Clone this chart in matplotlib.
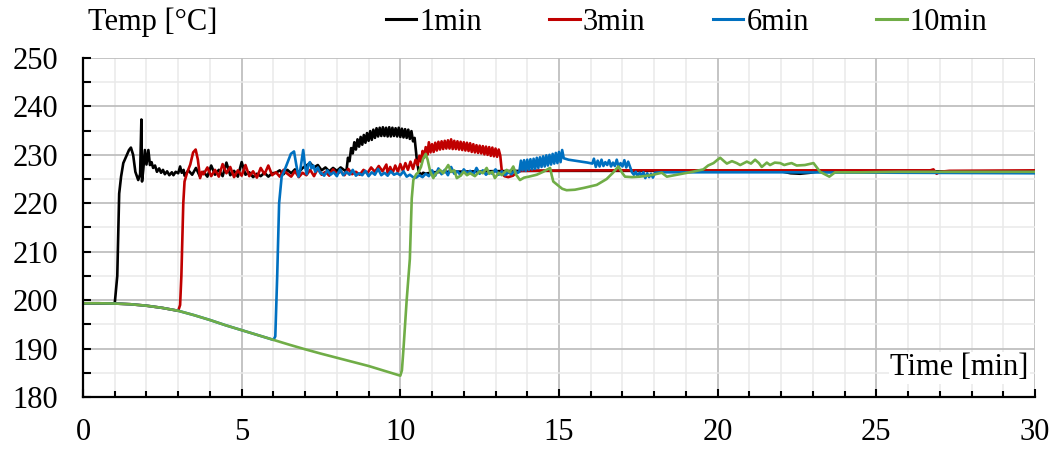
# Temperature vs time for four holding times
import matplotlib.pyplot as plt
from matplotlib.ticker import MultipleLocator

plt.rcParams['font.family'] = ['Liberation Serif', 'DejaVu Serif']

# shared cooling curve before the reheat starts (time, temp)
descent = [(0.0, 199.35), (0.5, 199.35), (1.0, 199.3), (1.5, 199.15), (2.0, 198.85),
           (2.5, 198.4), (3.0, 197.8), (3.5, 196.9), (4.0, 195.9), (4.5, 194.8),
           (5.0, 193.8), (5.5, 192.8), (6.0, 191.8), (6.5, 190.8), (7.0, 189.85),
           (7.5, 188.95), (8.0, 188.1), (8.5, 187.25), (9.0, 186.4), (9.5, 185.4),
           (10.0, 184.4)]

black_pts = descent[:3] + [
    (1.08, 205.0), (1.14, 222.0), (1.2, 225.5), (1.27, 228.3), (1.35, 229.5), (1.45, 231.0),
    (1.51, 231.5), (1.58, 230.0), (1.65, 226.5), (1.74, 224.8), (1.8, 226.0), (1.84, 237.3),
    (1.86, 224.5), (1.9, 227.0), (1.95, 231.0), (2.0, 228.0), (2.06, 231.0), (2.11, 227.9),
    (2.16, 228.5), (2.21, 227.3), (2.27, 227.8), (2.33, 226.5), (2.4, 227.2), (2.46, 226.3),
    (2.52, 226.9), (2.58, 226.0), (2.65, 226.6), (2.72, 225.8), (2.8, 226.4), (2.85, 225.8),
    (2.92, 226.5), (3.0, 226.2), (3.06, 227.6), (3.11, 226.3), (3.17, 226.9),
    (3.2, 225.7), (3.32, 226.8), (3.44, 225.9), (3.56, 227.3), (3.68, 225.6), (3.8, 226.5),
    (3.92, 225.5), (4.04, 227.8), (4.16, 225.9), (4.28, 226.9), (4.4, 225.6), (4.52, 228.4),
    (4.64, 225.8), (4.76, 226.7), (4.88, 225.5), (5.0, 228.5), (5.12, 225.9), (5.24, 226.4),
    (5.36, 225.4), (5.48, 226.1), (5.6, 225.6), (5.72, 226.3), (5.84, 225.5), (5.96, 226.2),
    (6.08, 226.3), (6.2, 226.8), (6.32, 226.0), (6.44, 226.9), (6.56, 226.2), (6.68, 227.0),
    (6.8, 226.4), (6.92, 227.3), (7.04, 227.8), (7.16, 228.3), (7.28, 227.4), (7.4, 227.9),
    (7.52, 226.8), (7.64, 227.4), (7.76, 226.6), (7.88, 227.3), (8.0, 226.7), (8.12, 227.4),
    (8.24, 226.8),
    (8.30, 226.6), (8.35, 229.4), (8.40, 228.7), (8.45, 231.4), (8.50, 230.3), (8.55, 232.6),
    (8.60, 231.1), (8.65, 233.2), (8.70, 231.7), (8.75, 233.7), (8.80, 232.1), (8.85, 234.1),
    (8.90, 232.5), (8.95, 234.5), (9.00, 232.9), (9.05, 234.9), (9.10, 233.1), (9.15, 235.2),
    (9.20, 233.5), (9.25, 235.5), (9.30, 233.8), (9.35, 235.6), (9.40, 233.9), (9.45, 235.7),
    (9.50, 233.9), (9.55, 235.6), (9.60, 233.8), (9.65, 235.7), (9.70, 233.8), (9.75, 235.6),
    (9.80, 233.9), (9.85, 235.5), (9.90, 233.8), (9.95, 235.6), (10.00, 233.7), (10.05, 235.4),
    (10.10, 233.6), (10.15, 235.3), (10.20, 233.5), (10.25, 235.2), (10.30, 233.3), (10.35, 234.9),
    (10.40, 232.8), (10.45, 233.5), (10.52, 229.0), (10.58, 226.5), (10.65, 225.9), (10.72, 226.3),
    (10.8, 226.1), (11.0, 226.4), (11.5, 226.5), (12.5, 226.6), (14.0, 226.7), (18.0, 226.7),
    (22.0, 226.6), (22.3, 226.2), (22.6, 226.1), (22.9, 226.3), (23.2, 226.6), (26.0, 226.6),
    (30.0, 226.6)]

red_pts = descent[:7] + [
    (3.06, 199.0), (3.1, 205.0), (3.16, 220.0), (3.2, 224.5), (3.28, 226.3), (3.38, 228.0),
    (3.47, 230.5), (3.55, 231.1), (3.62, 229.0), (3.69, 225.2), (3.75, 226.5),
    (3.80, 226.0), (3.92, 227.4), (4.04, 225.6), (4.16, 226.9), (4.28, 225.5), (4.40, 228.1),
    (4.52, 226.2), (4.64, 227.5), (4.76, 225.4), (4.88, 226.8), (5.00, 225.7), (5.12, 227.9),
    (5.24, 225.6), (5.36, 226.6), (5.48, 225.3), (5.60, 227.3), (5.72, 226.0), (5.84, 227.8),
    (5.96, 225.8), (6.08, 226.4), (6.20, 225.5), (6.32, 226.9), (6.44, 226.1), (6.56, 225.5),
    (6.68, 226.6), (6.80, 225.4), (6.92, 226.3), (7.04, 225.8), (7.16, 226.9), (7.28, 225.6),
    (7.40, 227.2), (7.52, 225.9), (7.64, 226.5), (7.76, 225.7), (7.88, 227.0), (8.00, 226.0),
    (8.12, 226.6), (8.24, 225.8), (8.36, 227.1), (8.48, 226.0), (8.60, 226.5), (8.72, 225.9),
    (8.84, 226.9), (8.96, 226.2), (9.08, 227.4), (9.20, 226.5), (9.32, 227.7), (9.44, 226.6),
    (9.56, 228.0),
    (9.60, 226.2), (9.68, 227.5), (9.76, 226.3), (9.84, 227.8), (9.92, 226.5), (10.00, 228.1),
    (10.08, 226.7), (10.16, 228.3), (10.24, 226.9), (10.32, 228.6), (10.40, 227.1), (10.48, 229.0),
    (10.55, 227.9), (10.60, 229.8), (10.65, 228.6), (10.70, 230.8), (10.75, 229.4), (10.80, 231.6),
    (10.85, 230.0), (10.90, 232.6), (10.95, 230.5), (11.00, 232.2), (11.05, 230.6), (11.10, 232.5),
    (11.15, 230.9), (11.20, 232.7), (11.25, 231.1), (11.30, 232.8), (11.35, 231.2), (11.40, 232.9),
    (11.45, 231.3), (11.50, 233.0), (11.55, 231.3), (11.60, 233.2), (11.65, 231.2), (11.70, 232.9),
    (11.75, 231.2), (11.80, 232.8), (11.85, 231.1), (11.90, 232.7), (11.95, 231.0), (12.00, 232.6),
    (12.05, 230.9), (12.10, 232.5), (12.15, 230.8), (12.20, 232.4), (12.25, 230.6), (12.30, 232.2),
    (12.35, 230.5), (12.40, 232.0), (12.45, 230.4), (12.50, 231.9), (12.55, 230.3), (12.60, 231.8),
    (12.65, 230.1), (12.70, 231.7), (12.75, 230.0), (12.80, 231.6), (12.85, 229.8), (12.90, 231.5),
    (12.95, 229.7), (13.00, 231.3), (13.05, 229.6), (13.10, 231.1), (13.15, 229.8), (13.20, 226.5),
    (13.28, 225.6), (13.40, 225.4), (13.55, 225.7), (13.65, 226.3), (13.8, 226.7),
    (16.0, 226.8), (20.0, 226.8), (26.7, 226.8), (26.8, 227.0), (26.9, 226.1), (27.0, 226.5),
    (27.3, 226.7), (30.0, 226.8)]

blue_pts = descent[:13] + [
    (6.06, 192.5), (6.12, 205.0), (6.18, 220.0), (6.26, 225.5), (6.35, 226.8), (6.45, 228.5),
    (6.55, 230.2), (6.65, 230.7), (6.72, 228.0), (6.79, 225.5), (6.85, 227.0), (6.94, 231.0),
    (7.0, 227.5), (7.05, 226.0), (7.1, 228.0), (7.15, 228.5), (7.2, 227.2), (7.26, 227.8),
    (7.32, 226.5), (7.4, 227.4), (7.48, 226.2),
    (7.5, 226.3), (7.6, 225.7), (7.7, 226.8), (7.8, 225.9), (7.9, 226.4), (8.0, 225.6),
    (8.1, 227.0), (8.2, 225.8), (8.3, 226.5), (8.4, 225.9), (8.5, 226.9), (8.6, 225.7),
    (8.7, 226.2), (8.8, 225.8), (8.9, 226.7), (9.0, 225.6), (9.1, 226.4), (9.2, 225.9),
    (9.3, 227.1), (9.4, 225.8), (9.5, 226.3), (9.6, 225.7), (9.7, 226.6), (9.8, 225.9),
    (9.9, 226.2), (10.0, 225.8), (10.1, 226.6), (10.2, 225.5), (10.3, 225.9), (10.4, 225.4),
    (10.5, 225.3), (10.6, 225.8), (10.7, 225.4), (10.8, 226.1), (10.9, 225.6),
    (11.0, 226.8), (11.1, 225.7), (11.2, 227.2), (11.3, 226.0), (11.4, 226.9), (11.5, 225.8),
    (11.6, 227.5), (11.7, 226.1), (11.8, 226.6), (11.9, 225.8), (12.0, 227.0), (12.1, 226.2),
    (12.2, 226.7), (12.3, 225.9), (12.4, 227.3), (12.5, 226.1), (12.6, 226.8), (12.7, 225.9),
    (12.8, 226.5), (12.9, 226.1), (13.0, 227.0), (13.1, 225.9), (13.2, 226.6), (13.3, 225.8),
    (13.4, 226.4), (13.5, 226.0), (13.6, 226.8), (13.7, 226.3),
    (13.75, 226.5), (13.80, 228.8), (13.85, 226.8), (13.90, 228.9), (13.95, 226.7), (14.00, 229.0),
    (14.05, 226.9), (14.10, 229.1), (14.15, 227.0), (14.20, 229.2), (14.25, 227.1), (14.30, 229.4),
    (14.35, 227.3), (14.40, 229.5), (14.45, 227.5), (14.50, 229.7), (14.55, 227.6), (14.60, 229.9),
    (14.65, 227.8), (14.70, 230.0), (14.75, 228.0), (14.80, 230.2), (14.85, 228.2), (14.90, 230.4),
    (14.95, 228.3), (15.00, 230.6), (15.05, 228.5), (15.10, 231.0), (15.15, 229.3), (15.3, 229.0),
    (15.6, 228.7), (15.9, 228.4), (16.05, 228.2),
    (16.10, 229.2), (16.16, 227.5), (16.22, 228.8), (16.28, 227.6), (16.34, 229.0), (16.40, 227.7),
    (16.46, 228.5), (16.52, 227.9), (16.58, 228.9), (16.64, 227.6), (16.70, 228.4), (16.76, 227.7),
    (16.82, 229.0), (16.88, 227.5), (16.94, 228.3), (17.00, 227.6), (17.06, 228.9), (17.12, 227.4),
    (17.18, 228.6), (17.24, 227.5), (17.30, 226.4), (17.36, 225.9), (17.42, 226.5), (17.48, 225.6),
    (17.54, 226.3), (17.60, 225.8), (17.66, 226.4), (17.72, 225.2), (17.78, 226.2), (17.84, 225.4),
    (17.90, 226.1), (17.96, 225.3), (18.02, 226.3), (18.2, 226.4), (22.0, 226.4), (26.0, 226.3),
    (30.0, 226.2)]

green_pts = descent + [
    (10.05, 185.5), (10.1, 190.0), (10.2, 200.0), (10.3, 208.5), (10.36, 221.0), (10.41, 224.8),
    (10.5, 226.0), (10.57, 226.4), (10.65, 227.5), (10.72, 229.2), (10.8, 230.2), (10.86, 229.0),
    (10.94, 226.6), (11.04, 225.2), (11.1, 226.0), (11.25, 226.9), (11.35, 226.2), (11.51, 227.9),
    (11.6, 226.5), (11.7, 226.8), (11.78, 225.2), (11.9, 225.7), (12.0, 226.5), (12.1, 225.8),
    (12.2, 226.2), (12.35, 225.6), (12.5, 226.6), (12.6, 226.2), (12.72, 227.3), (12.8, 226.1),
    (12.9, 226.5), (12.98, 225.2), (13.1, 226.3), (13.2, 225.8), (13.35, 226.9), (13.45, 226.4),
    (13.56, 227.6), (13.65, 225.9), (13.77, 224.8), (13.9, 225.3), (14.05, 225.5), (14.3, 225.9),
    (14.5, 226.5), (14.72, 227.3), (14.77, 225.8), (14.82, 224.5), (14.95, 223.8), (15.1, 223.0),
    (15.24, 222.7), (15.5, 222.8), (15.8, 223.2), (16.19, 223.8), (16.5, 225.0), (16.7, 226.3),
    (16.87, 227.6), (17.0, 226.2), (17.08, 225.5), (17.3, 225.4), (17.55, 225.5), (17.9, 225.8),
    (18.24, 226.3), (18.4, 225.5), (18.8, 226.0), (19.2, 226.5), (19.55, 227.0), (19.7, 227.8),
    (19.87, 228.3), (20.0, 229.0), (20.08, 229.4), (20.2, 228.7), (20.29, 228.2), (20.45, 228.7),
    (20.6, 228.3), (20.71, 227.9), (20.92, 228.6), (21.05, 228.2), (21.18, 229.0), (21.3, 228.3),
    (21.39, 227.5), (21.55, 228.4), (21.65, 227.9), (21.8, 228.4), (21.97, 228.3), (22.1, 227.9),
    (22.2, 228.1), (22.33, 228.3), (22.49, 227.8), (22.75, 227.9), (23.02, 228.3), (23.23, 226.5),
    (23.52, 225.5), (23.7, 226.4), (24.5, 226.4), (25.7, 226.5), (27.0, 226.5), (30.0, 226.5)]

labels = ['1min', '3min', '6min', '10min']
colors = ['#000000', '#c00000', '#0070c0', '#70ad47']

fig = plt.figure(figsize=(10.6, 4.5), dpi=100)
ax = fig.add_axes([0.0783, 0.1178, 0.8981, 0.7533])

for pts, lab, col in zip([black_pts, red_pts, blue_pts, green_pts], labels, colors):
    t = [p[0] for p in pts]
    v = [p[1] for p in pts]
    ax.plot(t, v, color=col, lw=1.9, label=lab, zorder=3)

ax.set_xlim(0, 30)
ax.set_ylim(180, 250)
ax.xaxis.set_major_locator(MultipleLocator(5))
ax.xaxis.set_minor_locator(MultipleLocator(1))
ax.yaxis.set_major_locator(MultipleLocator(10))
ax.yaxis.set_minor_locator(MultipleLocator(5))

ax.grid(which='major', color='#bfbfbf', lw=1.3, zorder=0)
ax.grid(which='minor', color='#e9e9e9', lw=1.1, zorder=0)
ax.set_axisbelow(True)

for s in ['top', 'right']:
    ax.spines[s].set_visible(False)
for s in ['left', 'bottom']:
    ax.spines[s].set_linewidth(1.6)
    ax.spines[s].set_zorder(4)

ax.tick_params(axis='both', which='both', direction='in', width=1.5, labelsize=22)
ax.tick_params(axis='x', which='both', pad=15)
ax.tick_params(axis='y', which='both', pad=18)
ax.tick_params(axis='x', which='major', length=6)
ax.tick_params(axis='x', which='minor', length=4)
ax.tick_params(axis='y', which='both', length=6)

ax.text(29.8, 186, 'Time [min]', ha='right', va='center', fontsize=22,
        bbox=dict(facecolor='white', edgecolor='none', pad=1), zorder=5)
fig.text(0.083, 0.951, 'Temp [°C]', ha='left', va='center', fontsize=22)

leg = fig.legend(loc='center left', bbox_to_anchor=(0.364, 0.951), ncol=4, frameon=False,
                 fontsize=22, handlelength=1.0, handletextpad=0.1, columnspacing=2.2,
                 borderaxespad=0, borderpad=0)
for h in leg.get_lines():
    h.set_linewidth(2.2)

fig.savefig('out.png', dpi=100)
